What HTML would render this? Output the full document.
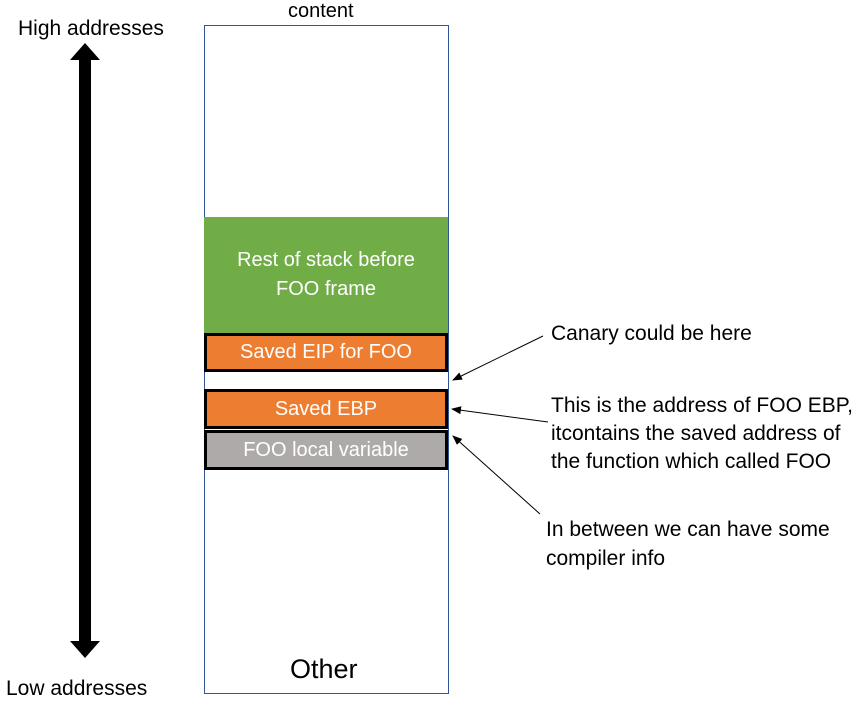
<!DOCTYPE html>
<html><head><style>
body{margin:0;width:854px;height:706px;background:#fff;font-family:"Liberation Sans",sans-serif;position:relative;overflow:hidden}
.t{position:absolute;font-size:21px;color:#000;white-space:nowrap;line-height:29px}
.b{position:absolute;left:204px;width:244px;box-sizing:border-box;color:#fff;font-size:20px;display:flex;align-items:center;justify-content:center;text-align:center}
</style></head><body>
<div style="position:absolute;left:204px;top:25px;width:245px;height:669px;box-sizing:border-box;border:1px solid #2f5597"></div>
<div class="t" style="left:288px;top:-3px;font-size:20px">content</div>
<div class="t" style="left:18px;top:14px">High addresses</div>
<div class="t" style="left:6px;top:674px">Low addresses</div>
<div class="b" style="top:217px;height:116px;background:#70ad47;line-height:29px">Rest of stack before<br>FOO frame</div>
<div class="b" style="top:333px;height:39px;background:#ed7d31;border:3px solid #000">Saved EIP for FOO</div>
<div class="b" style="top:389px;height:40px;background:#ed7d31;border:3px solid #000">Saved EBP</div>
<div class="b" style="top:430px;height:40px;background:#aeaaaa;border:3px solid #000">FOO local variable</div>
<div class="t" style="left:290px;top:652px;font-size:27px;line-height:34px">Other</div>
<div class="t" style="left:551px;top:319px">Canary could be here</div>
<div class="t" style="left:551px;top:392px;line-height:28px">This is the address of FOO EBP,<br>itcontains the saved address of<br>the function which called FOO</div>
<div class="t" style="left:546px;top:515px;line-height:29px">In between we can have some<br>compiler info</div>
<svg width="854" height="706" style="position:absolute;left:0;top:0">
<defs><marker id="a" markerWidth="10" markerHeight="8" refX="9" refY="4" orient="auto" markerUnits="userSpaceOnUse"><path d="M0,0L10,4L0,8z" fill="#000"/></marker></defs>
<polygon points="85,43 100,60 91,60 91,641 100,641 85,658 70,641 79,641 79,60 70,60" fill="#000"/>
<line x1="543" y1="336" x2="453" y2="380" stroke="#000" stroke-width="1" marker-end="url(#a)"/>
<line x1="548" y1="422" x2="452" y2="409" stroke="#000" stroke-width="1" marker-end="url(#a)"/>
<line x1="540" y1="514" x2="453" y2="436" stroke="#000" stroke-width="1" marker-end="url(#a)"/>
</svg>
</body></html>
